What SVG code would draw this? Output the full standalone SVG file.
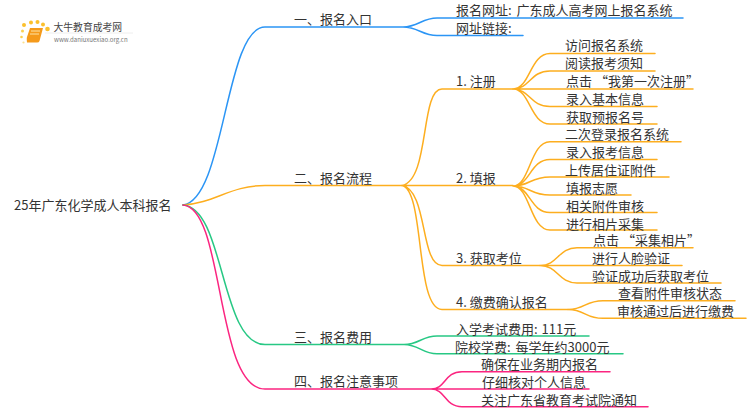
<svg xmlns="http://www.w3.org/2000/svg" width="750" height="410" viewBox="0 0 750 410">
<style>
text{font-family:"Noto Sans CJK SC","Noto Sans",sans-serif;font-size:13px;fill:#333}
#connectors path{fill:none;stroke-width:1.5;stroke-linecap:round}
.b{stroke:#2b95f5}.o{stroke:#fdae1f}.g{stroke:#27c884}.p{stroke:#fb2580}
</style>
<rect width="750" height="410" fill="#fff"/>
<g id="logo">
<circle cx="24" cy="25" r="2" fill="#fbc02d"/><circle cx="31" cy="22.500" r="2" fill="#fbc02d"/><circle cx="37.500" cy="22" r="2" fill="#fbc02d"/><circle cx="43" cy="24.500" r="2" fill="#fbc02d"/><circle cx="47.500" cy="29" r="2.300" fill="#fbc02d"/><circle cx="22.500" cy="31" r="1.500" fill="#fbd050"/><circle cx="21.500" cy="37" r="1.300" fill="#fbd050"/><circle cx="23.500" cy="42.500" r="1.100" fill="#fbe090"/>
<path d="M30 28H43L39.500 41Q39 42.500 37 42.500H27Q26.500 38 27 37Z" fill="#f59a1b"/>
<path d="M31 31H40M30 34H39" stroke="#fde3a7" stroke-width="1" fill="none"/>
<path d="M45 33H133" stroke="#eee" stroke-width="1"/>
<text x="53.500" y="31" style="font-size:9.800px;fill:#444">大牛教育成考网</text>
<text x="54" y="41.500" style="font-size:6.100px;fill:#777">www.daniuxuexiao.org.cn</text>
</g>
<g id="connectors">
<path class="b" d="M183 205C225 200 225 27 265 27H403C418 27 422 18 437 18H683M403 27C418 27 422 35.500 437 35.500H523"/>
<path class="o" d="M183 205C215 203 230 185.500 265 185.500H402"/>
<path class="o" d="M402 185.500C430 180 420 89 442 89H513M402 185.500H513M402 185.500C428 190 420 265.500 442 265.500H540M402 185.500C425 190 415 309.500 442 309.500H568"/>
<path class="o" d="M513 89C530 89 530 53.500 550 53.500H655M513 89C530 89 530 71 550 71H655M513 89H693M513 89C530 89 530 106.500 550 106.500H657M513 89C530 89 530 124 550 124H657"/>
<path class="o" d="M513 186C530 186 530 141.700 550 141.700H681M513 186C530 186 530 159.500 550 159.500H657M513 186C530 186 530 177 550 177H669M513 186C530 186 530 195 550 195H631M513 186C530 186 530 212.500 550 212.500H657M513 186C530 186 530 230 550 230H657"/>
<path class="o" d="M540 265.500C558 265.500 558 247.700 577 247.700H693M540 265.500H682M540 265.500C558 265.500 558 283 577 283H721"/>
<path class="o" d="M568 309.500C585 309.500 585 300.700 603 300.700H735M568 309.500C585 309.500 585 318.300 603 318.300H746"/>
<path class="g" d="M183 205C225 208 220 344.500 265 344.500H404C419 344.500 422 336 437 336H589M404 344.500C419 344.500 422 353.700 437 353.700H623"/>
<path class="p" d="M183 205C225 208 215 389 265 389H431C446 389 444 371.700 462 371.700H610M431 389H589M431 389C446 389 444 406.700 462 406.700H648"/>
</g>
<g id="root"><text x="14" y="209.500">25年广东化学成人本科报名</text></g>
<g id="n1"><text x="294" y="24">一、报名入口</text></g>
<g id="n1-1"><text x="456" y="15">报名网址: <tspan dx="2">广东成人高考网上报名系统</tspan></text></g>
<g id="n1-2"><text x="456" y="33">网址链接:</text></g>
<g id="n2"><text x="294" y="183">二、报名流程</text></g>
<g id="n2-1"><text x="456" y="86">1. 注册</text></g>
<g id="n2-1-1"><text x="565" y="50">访问报名系统</text></g>
<g id="n2-1-2"><text x="565" y="68">阅读报考须知</text></g>
<g id="n2-1-3"><text x="566" y="86">点击 “我第一次注册”</text></g>
<g id="n2-1-4"><text x="566" y="104">录入基本信息</text></g>
<g id="n2-1-5"><text x="566" y="122">获取预报名号</text></g>
<g id="n2-2"><text x="456" y="183">2. 填报</text></g>
<g id="n2-2-1"><text x="565" y="139">二次登录报名系统</text></g>
<g id="n2-2-2"><text x="566" y="157">录入报考信息</text></g>
<g id="n2-2-3"><text x="565" y="175">上传居住证附件</text></g>
<g id="n2-2-4"><text x="566" y="193">填报志愿</text></g>
<g id="n2-2-5"><text x="566" y="211">相关附件审核</text></g>
<g id="n2-2-6"><text x="566" y="229">进行相片采集</text></g>
<g id="n2-3"><text x="456" y="263">3. 获取考位</text></g>
<g id="n2-3-1"><text x="593" y="245">点击 “采集相片”</text></g>
<g id="n2-3-2"><text x="592" y="263">进行人脸验证</text></g>
<g id="n2-3-3"><text x="592" y="281">验证成功后获取考位</text></g>
<g id="n2-4"><text x="456" y="307">4. 缴费确认报名</text></g>
<g id="n2-4-1"><text x="618" y="298">查看附件审核状态</text></g>
<g id="n2-4-2"><text x="617" y="316">审核通过后进行缴费</text></g>
<g id="n3"><text x="294" y="342">三、报名费用</text></g>
<g id="n3-1"><text x="456" y="333.500">入学考试费用: <tspan dx="1">111元</tspan></text></g>
<g id="n3-2"><text x="455" y="351.500">院校学费: <tspan dx="2">每学年约3000元</tspan></text></g>
<g id="n4"><text x="294" y="386">四、报名注意事项</text></g>
<g id="n4-1"><text x="481" y="368.500">确保在业务期内报名</text></g>
<g id="n4-2"><text x="482" y="386.500">仔细核对个人信息</text></g>
<g id="n4-3"><text x="481" y="404.500">关注广东省教育考试院通知</text></g>
</svg>
